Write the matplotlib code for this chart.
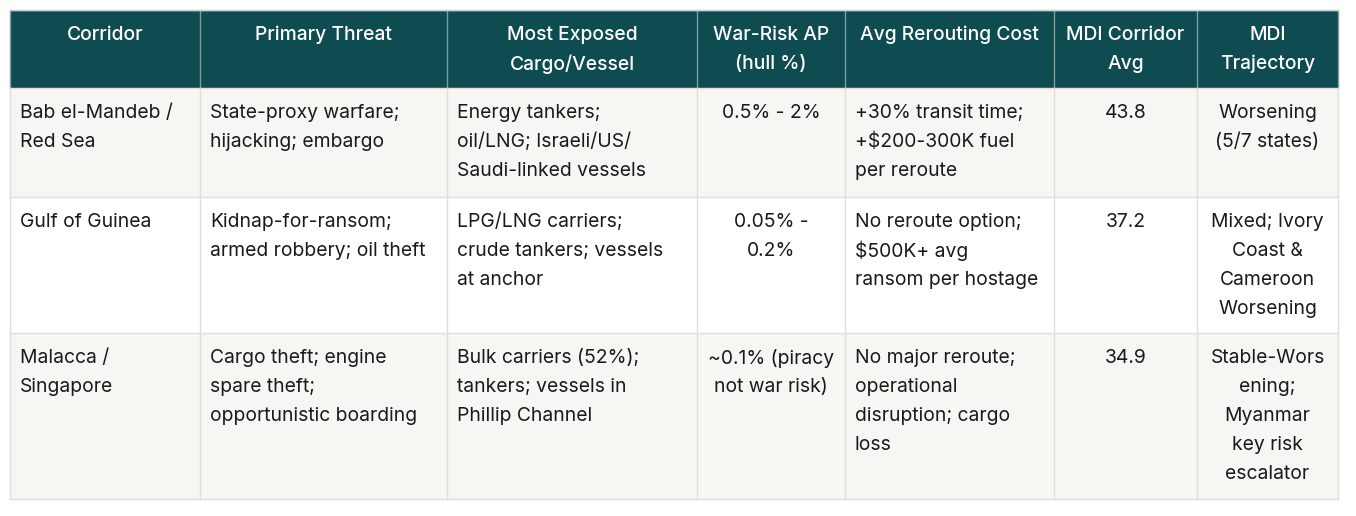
import matplotlib.pyplot as plt
from matplotlib.patches import Rectangle

plt.rcParams['font.family'] = ['Inter', 'DejaVu Sans']

headers = ['Corridor', 'Primary Threat', 'Most Exposed\nCargo/Vessel', 'War-Risk AP\n(hull %)',
           'Avg Rerouting Cost', 'MDI Corridor\nAvg', 'MDI\nTrajectory']

corridor = ['Bab el-Mandeb /\nRed Sea', 'Gulf of Guinea', 'Malacca /\nSingapore']
threat = ['State-proxy warfare;\nhijacking; embargo',
          'Kidnap-for-ransom;\narmed robbery; oil theft',
          'Cargo theft; engine\nspare theft;\nopportunistic boarding']
exposed = ['Energy tankers;\noil/LNG; Israeli/US/\nSaudi-linked vessels',
           'LPG/LNG carriers;\ncrude tankers; vessels\nat anchor',
           'Bulk carriers (52%);\ntankers; vessels in\nPhillip Channel']
war_risk = ['0.5% - 2%', '0.05% -\n0.2%', '~0.1% (piracy\nnot war risk)']
reroute = ['+30% transit time;\n+$200-300K fuel\nper reroute',
           'No reroute option;\n$500K+ avg\nransom per hostage',
           'No major reroute;\noperational\ndisruption; cargo\nloss']
mdi_avg = [43.8, 37.2, 34.9]
trajectory = ['Worsening\n(5/7 states)',
              'Mixed; Ivory\nCoast &\nCameroon\nWorsening',
              'Stable-Wors\nening;\nMyanmar\nkey risk\nescalator']

columns = [corridor, threat, exposed, war_risk, reroute,
           [f'{v:.1f}' for v in mdi_avg], trajectory]
align = ['left', 'left', 'left', 'center', 'left', 'center', 'center']

col_edges = [10, 200, 447, 697, 845, 1054, 1197, 1338]
row_edges = [10, 88, 197, 333, 499]

header_bg = '#0F4C52'
body_bg = ['#F7F6F2', '#FFFFFF', '#F7F6F2']
grid_c = '#DEDEDC'
text_c = '#1A1A1A'
fs = 13.9
line_h = 29
top_pad = 25
x_pad = 10

fig = plt.figure(figsize=(13.56, 5.16), dpi=100)
ax = fig.add_axes([0, 0, 1, 1])
ax.set_xlim(0, 1356)
ax.set_ylim(516, 0)
ax.axis('off')

# header background
ax.add_patch(Rectangle((col_edges[0], row_edges[0]), col_edges[-1] - col_edges[0],
                       row_edges[1] - row_edges[0], facecolor=header_bg, edgecolor='none'))
for r in range(3):
    ax.add_patch(Rectangle((col_edges[0], row_edges[r + 1]), col_edges[-1] - col_edges[0],
                           row_edges[r + 2] - row_edges[r + 1], facecolor=body_bg[r],
                           edgecolor='none'))

# grid lines
for x in col_edges:
    ax.plot([x, x], [row_edges[0], row_edges[1]], color='#7E9C9E', lw=1, zorder=2)
    ax.plot([x, x], [row_edges[1], row_edges[-1]], color=grid_c, lw=1, zorder=2)
for y in row_edges:
    ax.plot([col_edges[0], col_edges[-1]], [y, y], color=grid_c, lw=1, zorder=2)
ax.plot([col_edges[0], col_edges[-1]], [row_edges[0], row_edges[0]], color='#C9D3D3', lw=1, zorder=3)


def cell_text(c, top, text, color, ha, weight='normal'):
    left, right = col_edges[c], col_edges[c + 1]
    x = (left + right) / 2 if ha == 'center' else left + x_pad
    for i, line in enumerate(text.split('\n')):
        ax.text(x, top + top_pad + i * line_h, line, ha=ha, va='center',
                fontsize=fs, color=color, fontweight=weight, zorder=4)


for c, h in enumerate(headers):
    cell_text(c, row_edges[0], h, 'white', 'center', weight='medium')

for c, col in enumerate(columns):
    for r, val in enumerate(col):
        cell_text(c, row_edges[r + 1], val, text_c, align[c])

fig.savefig('out.png', dpi=100, facecolor='white')
